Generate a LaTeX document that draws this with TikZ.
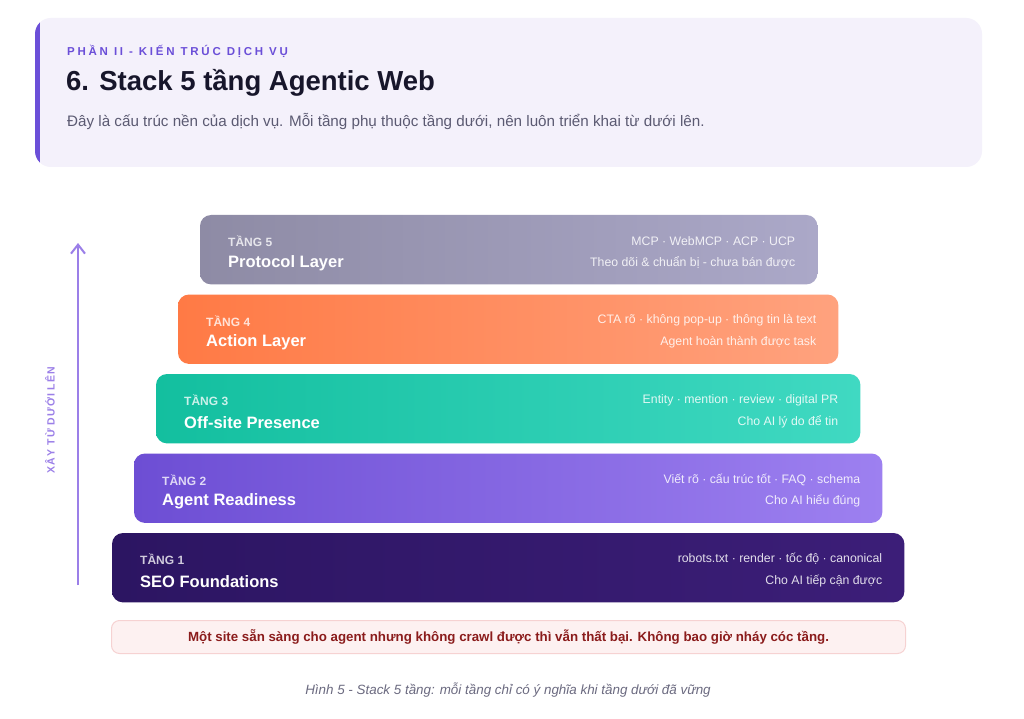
\documentclass[tikz,border=0pt]{standalone}
\usepackage{fontspec}
\setmainfont{Liberation Sans}
\usetikzlibrary{arrows.meta}
\definecolor{hdrbg}{HTML}{F4F1FB}
\definecolor{hdrbar}{HTML}{6B4FD8}
\definecolor{kicker}{HTML}{6B4FD8}
\definecolor{titlec}{HTML}{17162B}
\definecolor{subc}{HTML}{5B5A72}
\definecolor{lfiveL}{HTML}{8E8BA5}\definecolor{lfiveR}{HTML}{ABA8C8}
\definecolor{lfourL}{HTML}{FF7A45}\definecolor{lfourR}{HTML}{FFA27E}
\definecolor{lthreeL}{HTML}{13BF9F}\definecolor{lthreeR}{HTML}{40D9C2}
\definecolor{ltwoL}{HTML}{6D4ED4}\definecolor{ltwoR}{HTML}{9D80F0}
\definecolor{loneL}{HTML}{2C1562}\definecolor{loneR}{HTML}{3C1E78}
\definecolor{arrowc}{HTML}{9B7FE8}
\definecolor{warnbg}{HTML}{FDF1F1}
\definecolor{warnbd}{HTML}{F6D2D2}
\definecolor{warntx}{HTML}{8B1C1C}
\definecolor{capc}{HTML}{6B6A80}
\begin{document}
\begin{tikzpicture}[x=1pt,y=-1pt,
  layer/.style={minimum height=69pt, anchor=north west, inner sep=0pt},
  layerfill/.style={rounded corners=11pt, shading angle=90},
  tierlbl/.style={anchor=west, inner sep=0pt, text=white, text opacity=0.78, font=\bfseries\fontsize{12}{14}\selectfont},
  tiername/.style={anchor=west, inner sep=0pt, text=white, font=\bfseries\fontsize{16.5}{19}\selectfont},
  tierinfo/.style={anchor=east, inner sep=0pt, text=white, text opacity=0.85, font=\fontsize{12.3}{14}\selectfont},
]
\useasboundingbox (0,0) rectangle (1024,719);
\fill[white] (0,0) rectangle (1024,719);
% header
\fill[hdrbg, rounded corners=16pt] (35,18) rectangle (982,167);
\begin{scope}
\clip[rounded corners=16pt] (35,18) rectangle (982,167);
\fill[hdrbar] (35,18) rectangle (39.5,167);
\end{scope}
\node[anchor=west, inner sep=0pt, text=kicker, font=\bfseries\fontsize{11.5}{13}\selectfont\addfontfeatures{LetterSpace=24}] (kick) at (67,51) {PHẦN II - KIẾN TRÚC DỊCH VỤ};
\node[anchor=west, inner sep=0pt, text=titlec, font=\bfseries\fontsize{27.5}{32}\selectfont] (title) at (66,83) {6. Stack 5 tầng Agentic Web};
\node[anchor=west, inner sep=0pt, text=subc, font=\fontsize{15.2}{18}\selectfont] (sub) at (67,121) {Đây là cấu trúc nền của dịch vụ. Mỗi tầng phụ thuộc tầng dưới, nên luôn triển khai từ dưới lên.};
% layers
\node[layer, minimum width=617pt] (l5) at (200,215) {};
\node[layer, minimum width=660pt] (l4) at (178,294.5) {};
\node[layer, minimum width=704pt] (l3) at (156,374) {};
\node[layer, minimum width=748pt] (l2) at (134,453.5) {};
\node[layer, minimum width=792pt] (l1) at (112,533) {};
\shade[layerfill, left color=lfiveL, right color=lfiveR] (l5.north west) rectangle (l5.south east);
\shade[layerfill, left color=lfourL, right color=lfourR] (l4.north west) rectangle (l4.south east);
\shade[layerfill, left color=lthreeL, right color=lthreeR] (l3.north west) rectangle (l3.south east);
\shade[layerfill, left color=ltwoL, right color=ltwoR] (l2.north west) rectangle (l2.south east);
\shade[layerfill, left color=loneL, right color=loneR] (l1.north west) rectangle (l1.south east);
% layer texts
\foreach \n/\t/\nm/\a/\b in {
  l5/TẦNG 5/Protocol Layer/MCP · WebMCP · ACP · UCP/Theo dõi \& chuẩn bị - chưa bán được,
  l4/TẦNG 4/Action Layer/CTA rõ · không pop-up · thông tin là text/Agent hoàn thành được task,
  l3/TẦNG 3/Off-site Presence/Entity · mention · review · digital PR/Cho AI lý do để tin,
  l2/TẦNG 2/Agent Readiness/Viết rõ · cấu trúc tốt · FAQ · schema/Cho AI hiểu đúng,
  l1/TẦNG 1/SEO Foundations/robots.txt · render · tốc độ · canonical/Cho AI tiếp cận được}{
  \node[tierlbl] (\n t) at ([xshift=28pt, yshift=8.5pt]\n.west) {\t};
  \node[tiername] (\n n) at ([xshift=28pt, yshift=-13.5pt]\n.west) {\nm};
  \node[tierinfo] (\n a) at ([xshift=-22pt, yshift=8.5pt]\n.east) {\a};
  \node[tierinfo] (\n b) at ([xshift=-22pt, yshift=-13pt]\n.east) {\b};
}
% arrow
\coordinate (ab) at (78,585);
\coordinate (at) at (78,243);
\draw[arrowc, line width=2pt, -{Straight Barb[length=9pt, width=14pt, line width=2pt]}] (ab) -- (at);
\node[rotate=90, inner sep=0pt, text=arrowc, font=\bfseries\fontsize{10.5}{12}\selectfont\addfontfeatures{LetterSpace=10}] (alabel) at (50,420) {XÂY TỪ DƯỚI LÊN};
% warning
\node[draw=warnbd, fill=warnbg, line width=1pt, rounded corners=8pt, minimum width=794pt, minimum height=33pt, anchor=north west, inner sep=0pt] (warn) at (111,620) {};
\node[inner sep=0pt, text=warntx, font=\bfseries\fontsize{13.3}{15}\selectfont] (warnt) at (warn.center) {Một site sẵn sàng cho agent nhưng không crawl được thì vẫn thất bại. Không bao giờ nháy cóc tầng.};
% caption
\node[inner sep=0pt, text=capc, font=\itshape\fontsize{13.4}{15}\selectfont] (cap) at (508,690) {Hình 5 - Stack 5 tầng: mỗi tầng chỉ có ý nghĩa khi tầng dưới đã vững};
\end{tikzpicture}
\end{document}
